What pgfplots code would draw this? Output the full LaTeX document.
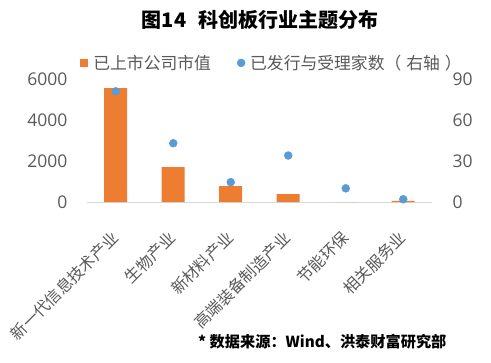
\documentclass[border=0pt]{standalone}
\usepackage{pgfplots}
\pgfplotsset{compat=1.18}
\usepackage{fontspec}
\setmainfont{Noto Sans CJK SC}
\newfontfamily\numfont{Open Sans}
\definecolor{barorange}{HTML}{ED7D31}
\definecolor{dotblue}{HTML}{5B9BD5}
\definecolor{txtgray}{HTML}{595959}
\definecolor{axgray}{HTML}{D9D9D9}
\begin{document}
\begin{tikzpicture}
\path[use as bounding box] (-87bp,-161bp) rectangle (404bp,202bp);
\begin{axis}[
  at={(0,0)}, anchor=south west,
  scale only axis, width=345bp, height=123bp,
  xmin=-0.5, xmax=5.5, ymin=0, ymax=6000,
  ytick={0,2000,4000,6000},
  xtick={0,...,5},
  xticklabels={新一代信息技术产业,生物产业,新材料产业,高端装备制造产业,节能环保,相关服务业},
  axis x line*=bottom, axis y line*=left,
  x axis line style={draw=axgray, line width=0.8bp, -},
  y axis line style={draw=none},
  major tick length=0pt,
  ybar, bar width=23bp,
  /pgf/number format/.cd, 1000 sep={}, assume math mode=true,
  /pgfplots/.cd,
  yticklabel style={font=\numfont\fontsize{17.5bp}{20bp}\selectfont, text=txtgray, xshift=-16bp},
  xticklabel style={font=\fontsize{16bp}{18bp}\selectfont, text=txtgray, rotate=45, anchor=east, xshift=-20bp, yshift=-23bp},
]
\addplot[fill=barorange, draw=none] coordinates {(0,5560) (1,1707) (2,780) (3,390) (4,0) (5,50)};
\end{axis}
\begin{axis}[
  at={(0,0)}, anchor=south west,
  scale only axis, width=345bp, height=123bp,
  xmin=-0.5, xmax=5.5, ymin=0, ymax=90,
  ytick={0,30,60,90}, xtick=\empty,
  axis y line*=right, axis x line=none,
  y axis line style={draw=none},
  major tick length=0pt,
  /pgf/number format/.cd, 1000 sep={}, assume math mode=true,
  /pgfplots/.cd,
  yticklabel style={font=\numfont\fontsize{17.5bp}{20bp}\selectfont, text=txtgray, xshift=17bp},
  legend style={draw=none, fill=none, at={(rel axis cs:0,1)}, anchor=south west, xshift=-10bp, yshift=4bp,
    font=\fontsize{16.8bp}{19bp}\selectfont, text=txtgray,
    /tikz/every even column/.append style={column sep=24bp}},
  legend columns=2,
]
\addlegendimage{legend image code/.code={\fill[barorange] (0bp,-3.5bp) rectangle (7bp,3.5bp); \path[draw=none,fill=none] (0bp,0bp) -- (11bp,0bp);}}
\addlegendentry{已上市公司市值}
\addplot[only marks, mark=*, mark size=4bp, color=dotblue, mark options={draw=dotblue, fill=dotblue},
  legend image code/.code={\fill[dotblue] (4bp,0bp) circle (4bp); \path[draw=none,fill=none] (0bp,0bp) -- (11bp,0bp);}]
  coordinates {(0,81) (1,43) (2,14.5) (3,34) (4,10) (5,2)};
\addlegendentry{已发行与受理家数（\hspace{5bp}右轴\hspace{5bp}）}
\end{axis}
\node[font=\fontsize{20bp}{24bp}\selectfont\bfseries, text=black] at (173bp,182bp) {图14\hspace{0.6em}科创板行业主题分布};
\node[font=\fontsize{15.2bp}{18bp}\selectfont\bfseries, text=black, anchor=west, inner sep=0pt] at (111bp,-140bp) {* 数据来源：Wind、洪泰财富研究部};
\end{tikzpicture}
\end{document}
